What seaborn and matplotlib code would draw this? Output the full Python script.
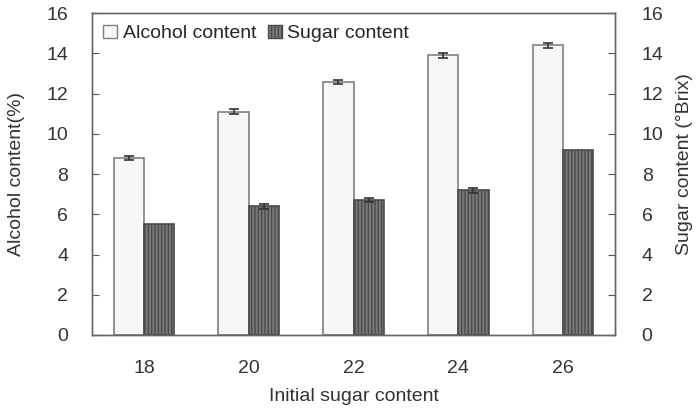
import numpy as np
import pandas as pd
import matplotlib
matplotlib.use("Agg")
import matplotlib.pyplot as plt
import seaborn as sns
from matplotlib.patches import Patch

sugar_levels = ["18", "20", "22", "24", "26"]
alcohol = [8.8, 11.1, 12.6, 13.9, 14.4]
alcohol_err = [0.12, 0.13, 0.10, 0.12, 0.12]
sugar = [5.5, 6.4, 6.7, 7.2, 9.2]
sugar_err = [0.0, 0.12, 0.10, 0.12, 0.0]

df = pd.DataFrame({
    "Initial": sugar_levels * 2,
    "Value": alcohol + sugar,
    "Err": alcohol_err + sugar_err,
    "Series": ["Alcohol content"] * 5 + ["Sugar content"] * 5,
})

sns.set_style("white")
plt.rcParams["font.family"] = ["Liberation Sans", "DejaVu Sans"]
plt.rcParams["hatch.linewidth"] = 1.0
fs = 14

fig = plt.figure(figsize=(7, 4.11), dpi=100)
ax = fig.add_axes([0.131, 0.185, 0.748, 0.783])

sns.barplot(data=df, x="Initial", y="Value", hue="Series", ax=ax,
            palette=["#f7f7f7", "#7a7a7a"], width=0.58, errorbar=None,
            edgecolor="#808080", linewidth=1.2, legend=False)

n = len(sugar_levels)
for i, p in enumerate(ax.patches[:2 * n]):
    row = df.iloc[i]
    if row["Series"] == "Sugar content":
        p.set_hatch("|||||")
        p.set_edgecolor("#4a4a4a")
    xc = p.get_x() + p.get_width() / 2
    if row["Err"] > 0:
        ax.errorbar(xc, p.get_height(), yerr=row["Err"], fmt="none",
                    ecolor="#333333", elinewidth=1.2, capsize=3.5, capthick=1.2)

ax.set_ylim(0, 16)
ax.set_xlim(-0.5, n - 0.5)
ax.set_yticks(range(0, 17, 2))
ax.set_xlabel("Initial sugar content", fontsize=fs, color="#333333", labelpad=8)
ax.set_ylabel("Alcohol content(%)", fontsize=fs, color="#333333", labelpad=15)
ax.tick_params(axis="y", direction="in", length=5, colors="#555555",
               labelcolor="#333333", labelsize=fs, pad=17)
ax.tick_params(axis="x", length=0, labelsize=fs, labelcolor="#333333", pad=18)
ax.set_xticks(np.arange(n) + 0.5, minor=True)
ax.tick_params(axis="x", which="minor", direction="in", length=4, colors="#555555")

ax2 = ax.twinx()
ax2.set_ylim(0, 16)
ax2.set_yticks(range(0, 17, 2))
ax2.set_ylabel("Sugar content (°Brix)", fontsize=fs, color="#333333", labelpad=9)
ax2.yaxis.label.set_y(0.53)
ax2.tick_params(axis="y", direction="in", length=5, colors="#555555",
                labelcolor="#333333", labelsize=fs, pad=19)

for a in (ax, ax2):
    for s in a.spines.values():
        s.set_color("#666666")
        s.set_linewidth(1.0)

handles = [Patch(facecolor="#f7f7f7", edgecolor="#808080", label="Alcohol content"),
           Patch(facecolor="#7a7a7a", edgecolor="#4a4a4a", hatch="|||||", label="Sugar content")]
ax.legend(handles=handles, loc="upper left", frameon=False, fontsize=fs,
          handlelength=0.7, handleheight=0.7, handletextpad=0.3,
          columnspacing=0.6, ncol=2, borderaxespad=0.3, borderpad=0.3)

fig.savefig("out.png", dpi=100)
